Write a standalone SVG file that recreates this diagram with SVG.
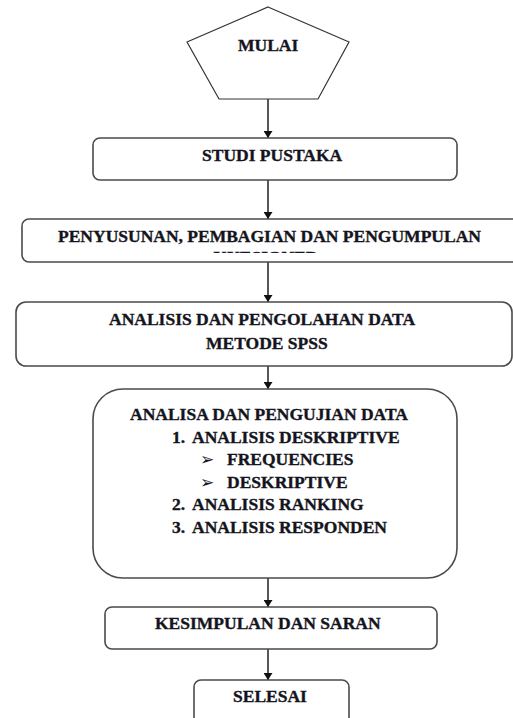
<svg xmlns="http://www.w3.org/2000/svg" width="513" height="718" viewBox="0 0 513 718">
<style>
.box{fill:#fff;stroke:#4a4a4a;stroke-width:1.6}
.pent{fill:#fff;stroke:#333;stroke-width:1.2}
.t{font-family:"Liberation Serif","Times New Roman",serif;font-weight:bold;font-size:17.5px;fill:#141420;stroke:#141420;stroke-width:0.35}
.b{font-family:"DejaVu Sans",sans-serif;font-size:17px;fill:#141420}
.c{stroke:#111;stroke-width:1.4;fill:none}
</style>
<defs>
<marker id="ah" viewBox="0 0 10 10" refX="10" refY="5" markerWidth="7" markerHeight="9" markerUnits="userSpaceOnUse" orient="auto" preserveAspectRatio="none">
<path d="M0,0 L10,5 L0,10 Z" fill="#111"/>
</marker>
<clipPath id="clip3"><rect x="22" y="219" width="500" height="34"/></clipPath>
</defs>
<g id="connectors">
<line class="c" x1="268" y1="99" x2="268" y2="138" marker-end="url(#ah)"/>
<line class="c" x1="268" y1="180" x2="268" y2="219" marker-end="url(#ah)"/>
<line class="c" x1="268" y1="262" x2="268" y2="302" marker-end="url(#ah)"/>
<line class="c" x1="268" y1="366" x2="268" y2="389" marker-end="url(#ah)"/>
<line class="c" x1="268" y1="578" x2="268" y2="607" marker-end="url(#ah)"/>
<line class="c" x1="268" y1="649" x2="268" y2="680" marker-end="url(#ah)"/>
</g>
<g id="mulai">
<polygon class="pent" points="268,7 349,42 318,99 219,99 187,42"/>
<text class="t" x="238" y="51">MULAI</text>
</g>
<g id="studi-pustaka">
<rect class="box" x="93" y="138" width="364" height="42" rx="7"/>
<text class="t" x="202" y="161">STUDI PUSTAKA</text>
</g>
<g id="penyusunan">
<rect class="box" x="22" y="219" width="500" height="43" rx="7"/>
<text class="t" x="58" y="242">PENYUSUNAN, PEMBAGIAN DAN PENGUMPULAN</text>
<text class="t" x="266" y="263" text-anchor="middle" clip-path="url(#clip3)">KUESIONER</text>
</g>
<g id="analisis-pengolahan">
<rect class="box" x="16" y="302" width="496" height="64" rx="10"/>
<text class="t" x="109" y="325">ANALISIS DAN PENGOLAHAN DATA</text>
<text class="t" x="206" y="349">METODE SPSS</text>
</g>
<g id="analisa-pengujian">
<rect class="box" x="93" y="389" width="364" height="189" rx="30"/>
<text class="t" x="130" y="420">ANALISA DAN PENGUJIAN DATA</text>
<text class="t" x="172" y="443">1.<tspan x="192">ANALISIS DESKRIPTIVE</tspan></text>
<text class="b" x="200" y="465">➢</text>
<text class="t" x="227" y="465">FREQUENCIES</text>
<text class="b" x="200" y="488">➢</text>
<text class="t" x="227" y="488">DESKRIPTIVE</text>
<text class="t" x="172" y="510">2.<tspan x="192">ANALISIS RANKING</tspan></text>
<text class="t" x="172" y="533">3.<tspan x="192">ANALISIS RESPONDEN</tspan></text>
</g>
<g id="kesimpulan">
<rect class="box" x="105" y="607" width="332" height="42" rx="7"/>
<text class="t" x="155" y="629">KESIMPULAN DAN SARAN</text>
</g>
<g id="selesai">
<rect class="box" x="194" y="680" width="155" height="60" rx="7"/>
<text class="t" x="233" y="702">SELESAI</text>
</g>
</svg>
